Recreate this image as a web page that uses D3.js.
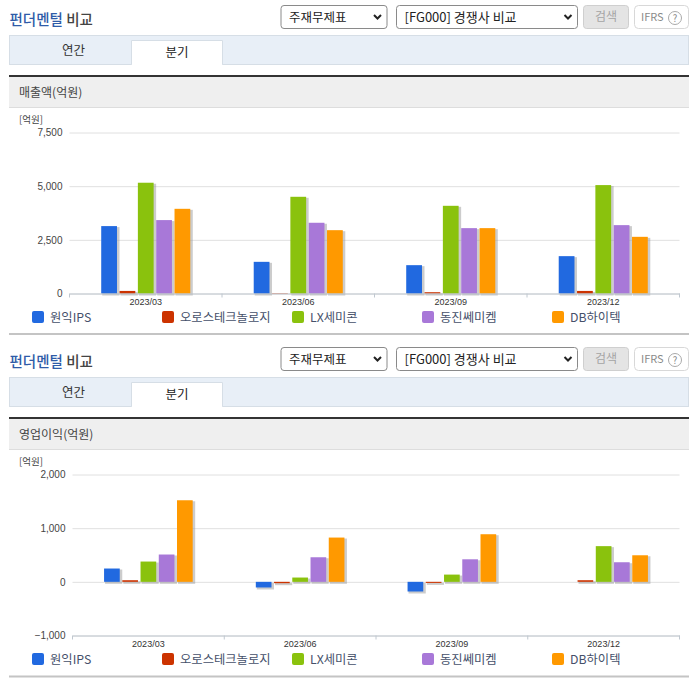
<!DOCTYPE html>
<html>
<head>
<meta charset="utf-8">
<script src="https://cdn.jsdelivr.net/npm/d3@7"></script>
<style>
  html, body { margin: 0; padding: 0; background: #fff; }
  text { font-family: "Noto Sans CJK KR", "Noto Sans", sans-serif; }
  .tick text { font-family: "Liberation Sans", sans-serif; }
</style>
</head>
<body>
<div id="chart"></div>
<script>
var quarters = ["2023/03", "2023/06", "2023/09", "2023/12"];
var companies = ["원익IPS", "오로스테크놀로지", "LX세미콘", "동진쎄미켐", "DB하이텍"];
var colors = ["#2169e0", "#cc3300", "#8ac20d", "#a878d8", "#ff9900"];

// one row per company, one value per quarter
var salesValues = [
  [3140, 1475, 1320, 1740],
  [120, 20, 60, 120],
  [5160, 4505, 4085, 5050],
  [3420, 3295, 3045, 3185],
  [3945, 2950, 3045, 2640]
];
var profitValues = [
  [248, -105, -180, 0],
  [30, -25, -20, 30],
  [378, 80, 135, 665],
  [509, 458, 420, 365],
  [1520, 825, 887, 495]
];
var salesTicks = [0, 2500, 5000, 7500];
var profitTicks = [-1000, 0, 1000, 2000];

var legendX = [32, 162, 292, 422, 552];

var svg = d3.select("#chart").append("svg")
  .attr("width", 696)
  .attr("height", 684)
  .style("display", "block");

function drawToolbar(g) {
  var title = g.append("text")
    .attr("x", 9.5)
    .attr("y", 25)
    .attr("font-size", 14.5)
    .attr("font-weight", 500);
  title.append("tspan").attr("fill", "#2f5ba8").text("펀더멘털");
  title.append("tspan").attr("fill", "#444").text(" 비교");

  // fake select boxes
  var selects = [
    { x: 281, w: 106, label: "주재무제표", size: 12.5 },
    { x: 396.5, w: 181, label: "[FG000] 경쟁사 비교", size: 13 }
  ];
  selects.forEach(function(s) {
    g.append("rect")
      .attr("x", s.x).attr("y", 5.5)
      .attr("width", s.w).attr("height", 23)
      .attr("rx", 3)
      .attr("fill", "#fff")
      .attr("stroke", "#8a8a8a");
    g.append("text")
      .attr("x", s.x + 8).attr("y", 21.5)
      .attr("font-size", s.size)
      .attr("fill", "#222")
      .text(s.label);
    var cx = s.x + s.w - 9.5;
    g.append("path")
      .attr("d", `M${cx - 3.5},15 L${cx},18.5 L${cx + 3.5},15`)
      .attr("fill", "none")
      .attr("stroke", "#222")
      .attr("stroke-width", 2);
  });

  g.append("rect")
    .attr("x", 583.5).attr("y", 5.5)
    .attr("width", 45).attr("height", 23)
    .attr("rx", 3)
    .attr("fill", "#e4e4e4")
    .attr("stroke", "#cfcfcf");
  g.append("text")
    .attr("x", 606).attr("y", 21)
    .attr("text-anchor", "middle")
    .attr("font-size", 12)
    .attr("fill", "#a5a5a5")
    .text("검색");

  g.append("rect")
    .attr("x", 634.5).attr("y", 5.5)
    .attr("width", 54).attr("height", 23)
    .attr("rx", 4)
    .attr("fill", "#fff")
    .attr("stroke", "#d8d8d8");
  g.append("text")
    .attr("x", 641).attr("y", 21)
    .attr("font-size", 11)
    .attr("fill", "#8a8a8a")
    .text("IFRS");
  g.append("circle")
    .attr("cx", 675).attr("cy", 18)
    .attr("r", 6.5)
    .attr("fill", "#fff")
    .attr("stroke", "#aaa");
  g.append("text")
    .attr("x", 675).attr("y", 21.5)
    .attr("text-anchor", "middle")
    .attr("font-size", 9.5)
    .attr("fill", "#888")
    .text("?");
}

function drawTabs(g) {
  g.append("rect")
    .attr("x", 9.5).attr("y", 35.5)
    .attr("width", 679).attr("height", 29)
    .attr("fill", "#e8eff7")
    .attr("stroke", "#d6dee6");
  g.append("path")
    .attr("d", "M131.5,64.5 V40.5 H222.5 V64.5")
    .attr("fill", "#fff")
    .attr("stroke", "#d6dee6");
  g.append("rect")
    .attr("x", 132).attr("y", 62)
    .attr("width", 90).attr("height", 3)
    .attr("fill", "#fff");
  g.append("text")
    .attr("x", 73.5).attr("y", 55)
    .attr("text-anchor", "middle")
    .attr("font-size", 12.5)
    .attr("fill", "#333")
    .text("연간");
  g.append("text")
    .attr("x", 177).attr("y", 56.5)
    .attr("text-anchor", "middle")
    .attr("font-size", 12.5)
    .attr("fill", "#222")
    .text("분기");
}

function drawPanel(offset, opts) {
  var g = svg.append("g").attr("transform", `translate(0, ${offset})`);

  drawToolbar(g);
  drawTabs(g);

  // section header
  g.append("rect")
    .attr("x", 9).attr("y", 77)
    .attr("width", 680).attr("height", 30)
    .attr("fill", "#efefef");
  g.append("rect")
    .attr("x", 9).attr("y", 75)
    .attr("width", 680).attr("height", 2)
    .attr("fill", "#333");
  g.append("rect")
    .attr("x", 9).attr("y", 107)
    .attr("width", 680).attr("height", 1)
    .attr("fill", "#ddd");
  g.append("text")
    .attr("x", 19).attr("y", 96.5)
    .attr("font-size", 12)
    .attr("fill", "#444")
    .text(opts.title);
  g.append("text")
    .attr("x", 19).attr("y", 123)
    .attr("font-size", 9.5)
    .attr("fill", "#444")
    .text("[억원]");

  var xOuter = d3.scaleBand()
    .domain(quarters)
    .range([opts.left, 679.5])
    .paddingInner(0.416)
    .paddingOuter(0.208);
  var xInner = d3.scaleBand()
    .domain(d3.range(companies.length))
    .range([0, xOuter.bandwidth()])
    .paddingInner(0.14);
  var y = d3.scaleLinear()
    .domain(opts.domain)
    .range([293.5, 132.5]);

  // gridlines + y labels
  var yAxis = d3.axisLeft(y)
    .tickValues(opts.ticks)
    .tickFormat(d3.format(","))
    .tickSize(-(679.5 - opts.left))
    .tickPadding(7);
  var yG = g.append("g")
    .attr("transform", `translate(${opts.left}, 0)`)
    .call(yAxis);
  yG.select(".domain").remove();
  yG.selectAll(".tick line").attr("stroke", "#e0e0e0");
  yG.selectAll(".tick text").attr("font-size", 10).attr("fill", "#444");

  // bars, shadow first
  var groups = g.selectAll(".series")
    .data(opts.values)
    .enter()
    .append("g")
    .attr("class", "series");

  function barY(d) { return Math.min(y(d), y(0)); }
  function barH(d) { return Math.abs(y(d) - y(0)); }

  groups.each(function(row, i) {
    var s = d3.select(this);
    s.selectAll(".shadow")
      .data(row)
      .enter()
      .append("rect")
      .attr("class", "shadow")
      .attr("x", (d, q) => xOuter(quarters[q]) + xInner(i) + 1)
      .attr("y", d => barY(d) + 1)
      .attr("width", xInner.bandwidth() + 1.5)
      .attr("height", d => barH(d) > 0.5 ? barH(d) + 1 : 0)
      .attr("fill", "#999")
      .attr("opacity", 0.5);
    s.selectAll(".bar")
      .data(row)
      .enter()
      .append("rect")
      .attr("class", "bar")
      .attr("x", (d, q) => xOuter(quarters[q]) + xInner(i))
      .attr("y", d => barY(d))
      .attr("width", xInner.bandwidth())
      .attr("height", d => barH(d))
      .attr("fill", colors[i]);
  });

  // x axis line, boundary ticks and quarter labels
  var xAxis = d3.axisBottom(xOuter).tickSize(0).tickPadding(5);
  var xG = g.append("g")
    .attr("transform", "translate(0, 293.5)")
    .call(xAxis);
  xG.select(".domain").attr("stroke", "#c0c8d0");
  xG.selectAll(".tick text").attr("font-size", 9).attr("fill", "#333");

  var step = xOuter.step();
  g.selectAll(".boundary")
    .data(d3.range(quarters.length + 1))
    .enter()
    .append("line")
    .attr("class", "boundary")
    .attr("x1", d => opts.left + d * step)
    .attr("x2", d => opts.left + d * step)
    .attr("y1", 293.5)
    .attr("y2", 297.5)
    .attr("stroke", "#c0c8d0");

  // legend
  var legend = g.selectAll(".legend")
    .data(companies)
    .enter()
    .append("g")
    .attr("class", "legend")
    .attr("transform", (d, i) => `translate(${legendX[i]}, 317)`);
  legend.append("rect")
    .attr("y", -6)
    .attr("width", 12)
    .attr("height", 12)
    .attr("rx", 2)
    .attr("fill", (d, i) => colors[i]);
  legend.append("text")
    .attr("x", 18)
    .attr("y", 4.5)
    .attr("font-size", 12.3)
    .attr("fill", "#45506a")
    .text(d => d);

  // bottom rule
  g.append("rect")
    .attr("x", 9).attr("y", opts.ruleY)
    .attr("width", 680).attr("height", 2)
    .attr("fill", "#c4c4c4");
}

drawPanel(0, {
  title: "매출액(억원)",
  values: salesValues,
  domain: [0, 7500],
  ticks: salesTicks,
  left: 69.5,
  ruleY: 333
});

drawPanel(342, {
  title: "영업이익(억원)",
  values: profitValues,
  domain: [-1000, 2000],
  ticks: profitTicks,
  left: 72.5,
  ruleY: 333.5
});
</script>
</body>
</html>
